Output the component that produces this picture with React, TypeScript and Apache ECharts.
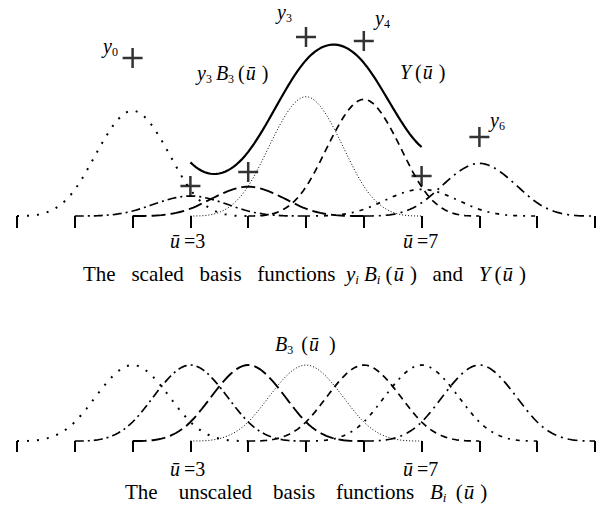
import React, { useEffect, useRef } from "react";
import * as echarts from "echarts";

// Uniform knot vector of the cubic B-spline, parameter ū
const knots = [0, 1, 2, 3, 4, 5, 6, 7, 8, 9, 10];
// Control values y0 … y6
const controlValues = [1.58, 0.3, 0.44, 1.79, 1.75, 0.4, 0.79];
// Parameter values annotated under the axis
const markedParams = [3, 7];

const DEGREE = 3;
const STEP = 0.05;
const SERIF = '"Liberation Serif", "Times New Roman", serif';

// Line style of each basis function B0 … B6
const dashPatterns: number[][] = [
  [2, 8],
  [9, 4, 2, 4],
  [14, 5],
  [1, 2],
  [7, 5],
  [4, 6, 2, 6],
  [10, 5, 2, 5],
];
const lineWidths = [2, 1.7, 1.9, 1, 1.7, 1.7, 1.7];

// Cox–de Boor recursion
function basis(i: number, k: number, u: number): number {
  if (k === 0) return knots[i] <= u && u < knots[i + 1] ? 1 : 0;
  const a = knots[i + k] - knots[i];
  const b = knots[i + k + 1] - knots[i + 1];
  const left = a === 0 ? 0 : ((u - knots[i]) / a) * basis(i, k - 1, u);
  const right = b === 0 ? 0 : ((knots[i + k + 1] - u) / b) * basis(i + 1, k - 1, u);
  return left + right;
}

function params(from: number, to: number): number[] {
  const n = Math.round((to - from) / STEP);
  const out: number[] = [];
  for (let j = 0; j <= n; j++) out.push(Math.round((from + j * STEP) * 1000) / 1000);
  return out;
}

const basisCurve = (i: number, scale: number) =>
  params(knots[i], knots[i + DEGREE + 1]).map((u) => [u, scale * basis(i, DEGREE, u)]);

const splineCurve = () =>
  params(knots[DEGREE], knots[controlValues.length]).map((u) => [
    u,
    controlValues.reduce((s, y, i) => s + y * basis(i, DEGREE, u), 0),
  ]);

function makeRich(size: number, lineHeight: number) {
  const sub = Math.round(size * 0.62);
  const base = { fontFamily: SERIF, fontSize: size, lineHeight, fill: "#000" };
  const subBase = {
    fontFamily: SERIF,
    fontSize: sub,
    lineHeight: sub,
    verticalAlign: "bottom",
    fill: "#000",
  };
  return {
    t: { ...base },
    n: { ...base },
    i: { ...base, fontStyle: "italic" },
    ip: { ...base, fontStyle: "italic", padding: [0, 6, 0, 1] },
    s: { ...subBase },
    sp: { ...subBase, padding: [0, 4, 0, 0] },
    sip: { ...subBase, fontStyle: "italic", padding: [0, 5, 0, 0] },
  };
}

function label(x: number, y: number, text: string, size = 20, lineHeight = size + 3) {
  return {
    type: "text",
    x,
    y,
    silent: true,
    style: {
      text,
      rich: makeRich(size, lineHeight),
      align: "left",
      verticalAlign: "middle",
      fill: "#000",
      font: `${size}px ${SERIF}`,
    },
  };
}

export default function App() {
  const ref = useRef<HTMLDivElement>(null);

  useEffect(() => {
    if (!ref.current) return;
    const chart = echarts.init(ref.current, null, { renderer: "svg" });

    const xAxisBase = {
      type: "value",
      min: knots[0],
      max: knots[knots.length - 1],
      interval: 1,
      axisLine: { show: false },
      axisLabel: { show: false },
      splitLine: { show: false },
      axisTick: { show: true, length: 12, lineStyle: { color: "#000", width: 2 } },
    };
    const yAxisBase = {
      type: "value",
      min: 0,
      show: false,
      splitLine: { show: false },
    };

    const series: any[] = [];
    controlValues.forEach((y, i) => {
      const lineStyle = { color: "#000", width: lineWidths[i], type: dashPatterns[i] };
      series.push({
        type: "line",
        xAxisIndex: 0,
        yAxisIndex: 0,
        data: basisCurve(i, y),
        symbol: "none",
        clip: false,
        lineStyle,
        silent: true,
      });
      series.push({
        type: "line",
        xAxisIndex: 1,
        yAxisIndex: 1,
        data: basisCurve(i, 1),
        symbol: "none",
        clip: false,
        lineStyle,
        silent: true,
      });
    });
    series.push({
      type: "line",
      xAxisIndex: 0,
      yAxisIndex: 0,
      data: splineCurve(),
      symbol: "none",
      clip: false,
      lineStyle: { color: "#000", width: 2.2, type: "solid" },
      silent: true,
    });
    series.push({
      type: "scatter",
      xAxisIndex: 0,
      yAxisIndex: 0,
      data: controlValues.map((y, i) => [knots[i + 2], y]),
      symbol: "path://M8.75,0h2.5v8.75h8.75v2.5h-8.75v8.75h-2.5v-8.75h-8.75v-2.5h8.75z",
      symbolSize: 20,
      itemStyle: { color: "#000" },
      clip: false,
      silent: true,
    });

    const [m0, m1] = markedParams;
    const gap = "\u00a0\u00a0\u00a0";
    const wideGap = "\u00a0\u00a0\u00a0\u00a0";

    chart.setOption({
      animation: false,
      backgroundColor: "#fff",
      grid: [
        { left: 17, right: 11, top: 16, height: 200 },
        { left: 17, right: 11, top: 327, height: 114 },
      ],
      xAxis: [
        { ...xAxisBase, gridIndex: 0 },
        { ...xAxisBase, gridIndex: 1, axisTick: { ...xAxisBase.axisTick, length: 11 } },
      ],
      yAxis: [
        { ...yAxisBase, gridIndex: 0, max: 2 },
        { ...yAxisBase, gridIndex: 1, max: 1 },
      ],
      series,
      graphic: [
        label(103, 46, "{i|y}{s|0}"),
        label(277, 12, "{i|y}{s|3}"),
        label(375, 18, "{i|y}{s|4}"),
        label(490, 120, "{i|y}{s|6}"),
        label(197, 73, "{i|y}{sp|3}{i|B}{sp|3}{n|(}{ip|ū}{n|)}"),
        label(400, 72, "{i|Y}{n|\u2009(}{ip|ū}{n|)}"),
        label(170, 241, `{i|ū}{n|\u2009=${m0}}`, 20, 18),
        label(403, 241, `{i|ū}{n|\u2009=${m1}}`, 20, 18),
        label(
          83,
          274,
          `{t|The${gap}scaled${gap}basis${gap}functions\u00a0\u00a0}{i|y}{sip|i}{i|B}{sip|i}{n|(}{ip|ū}{n|)${gap}and${gap}}{i|Y}{n|\u2009(}{ip|ū}{n|)}`,
          21
        ),
        label(275, 344, "{i|B}{sp|3}{n|\u2009(}{ip|ū}{n|\u2009)}"),
        label(170, 469, `{i|ū}{n|\u2009=${m0}}`, 20, 18),
        label(403, 469, `{i|ū}{n|\u2009=${m1}}`, 20, 18),
        label(
          125,
          492,
          `{t|The${wideGap}unscaled${wideGap}basis${wideGap}functions\u00a0\u00a0\u00a0}{i|B}{sip|i}{n|\u2009(}{ip|ū}{n|)}`,
          21
        ),
      ],
    });

    return () => chart.dispose();
  }, []);

  return (
    <div
      ref={ref}
      style={{ position: "absolute", left: 0, top: 0, width: 606, height: 514, background: "#fff" }}
    />
  );
}
